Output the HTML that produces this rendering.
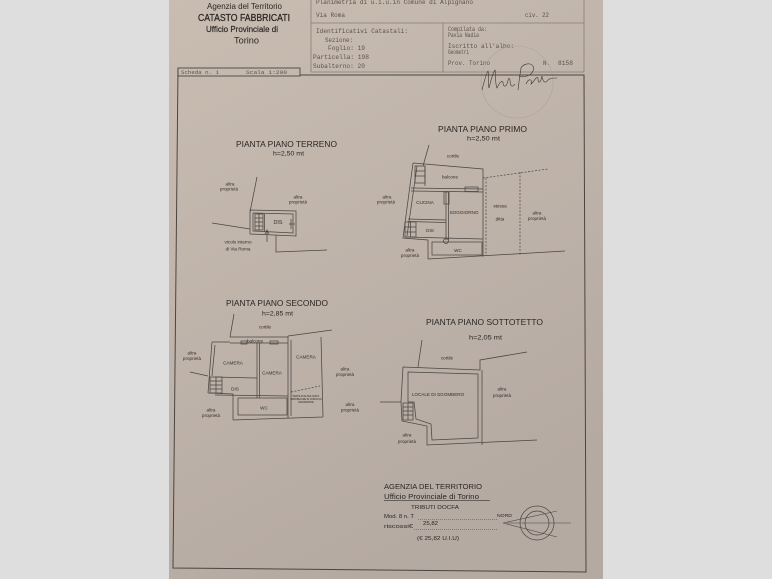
<!DOCTYPE html>
<html><head><meta charset="utf-8"><style>
html,body{margin:0;padding:0;background:#dedede;}
svg{display:block}
text{font-family:"Liberation Sans",sans-serif;fill:#2b2624}
.m{font-family:"Liberation Mono",monospace;fill:#5a524d;font-size:6px}
.s{font-size:4.6px;text-anchor:middle;fill:#342e2b}
.r{font-size:5.4px;text-anchor:middle;fill:#342e2b}
.t{font-size:8.5px;text-anchor:middle}
.h{font-size:6px;text-anchor:middle}
.l{stroke:#4b4541;stroke-width:0.75;fill:none}
.d{stroke:#4b4541;stroke-width:0.7;fill:none;stroke-dasharray:2 1.5}
.b{stroke:#877e77;stroke-width:0.8;fill:none}
</style></head><body>
<svg width="772" height="579" viewBox="0 0 772 579">
<defs><linearGradient id="pg" x1="0" y1="0" x2="0.4" y2="1"><stop offset="0" stop-color="#c9bdb2"/><stop offset="1" stop-color="#b5aaa2"/></linearGradient></defs>
<rect width="772" height="579" fill="#dedede"/>
<rect x="169" y="0" width="434" height="579" fill="url(#pg)"/>

<!-- header left -->
<text x="244.5" y="9" font-size="8.5" text-anchor="middle" textLength="75" lengthAdjust="spacingAndGlyphs">Agenzia del Territorio</text>
<text x="244" y="21" font-size="10" text-anchor="middle" textLength="92" lengthAdjust="spacingAndGlyphs" stroke="#2b2624" stroke-width="0.25">CATASTO FABBRICATI</text>
<text x="242" y="32" font-size="8" text-anchor="middle" textLength="72" lengthAdjust="spacingAndGlyphs" stroke="#2b2624" stroke-width="0.15">Ufficio Provinciale di</text>
<text x="246.5" y="43.5" font-size="9" text-anchor="middle" textLength="25" lengthAdjust="spacingAndGlyphs">Torino</text>

<!-- header right box -->
<path class="b" d="M311,-1 V72 M311,23 H584 M584,-1 V72 M311,72 H584 M443,23 V72"/>
<text class="m" x="316" y="4" textLength="157" lengthAdjust="spacingAndGlyphs">Planimetria di u.i.u.in Comune di Alpignano</text>
<text class="m" x="316" y="17" textLength="29" lengthAdjust="spacingAndGlyphs">Via Roma</text>
<text class="m" x="525" y="17" textLength="24" lengthAdjust="spacingAndGlyphs">civ. 22</text>
<text class="m" x="316" y="33" textLength="92" lengthAdjust="spacingAndGlyphs">Identificativi Catastali:</text>
<text class="m" x="325" y="42" textLength="28" lengthAdjust="spacingAndGlyphs">Sezione:</text>
<text class="m" x="328" y="50" textLength="37" lengthAdjust="spacingAndGlyphs">Foglio: 19</text>
<text class="m" x="313" y="59" textLength="56" lengthAdjust="spacingAndGlyphs">Particella: 198</text>
<text class="m" x="313" y="68" textLength="52" lengthAdjust="spacingAndGlyphs">Subalterno: 20</text>
<text class="m" x="448" y="31" textLength="39" lengthAdjust="spacingAndGlyphs">Compilata da:</text>
<text class="m" x="448" y="37" textLength="31" lengthAdjust="spacingAndGlyphs">Pavia Nadia</text>
<text class="m" x="448" y="48" textLength="66" lengthAdjust="spacingAndGlyphs">Iscritto all'albo:</text>
<text class="m" x="448" y="54" textLength="21" lengthAdjust="spacingAndGlyphs">Geometri</text>
<text class="m" x="448" y="65" textLength="42" lengthAdjust="spacingAndGlyphs">Prov. Torino</text>
<text class="m" x="543" y="65">N.</text>
<text class="m" x="558" y="65" textLength="15" lengthAdjust="spacingAndGlyphs">8158</text>

<!-- stamp circle + signature -->
<circle cx="517" cy="82" r="36" fill="none" stroke="#ada39b" stroke-width="0.6"/>
<path d="M482,90 C484,82 486,74 488,71 C489,76 488,84 489,88 C491,80 493,72 495,70 C496,76 495,84 497,88 C499,84 501,80 503,82 C503,86 505,88 507,84 C508,80 509,76 510,80 C510,86 512,88 515,84" fill="none" stroke="#3a3431" stroke-width="0.6"/>
<path d="M518,90 C519,82 520,74 521,68 C524,62 536,62 533,71 C531,76 523,78 519,76 M526,84 C529,77 533,80 531,84 C534,82 536,76 538,78 C538,82 539,84 541,80 L542,76 C543,82 545,84 548,80 C550,78 553,78 557,78" fill="none" stroke="#3a3431" stroke-width="0.6"/>

<!-- scheda box + frame -->
<rect x="178" y="68" width="122" height="8" fill="none" stroke="#4b4541" stroke-width="0.9"/>
<text class="m" x="181" y="74" textLength="38" lengthAdjust="spacingAndGlyphs" style="font-size:5px">Scheda n. 1</text>
<text class="m" x="246" y="74" textLength="41" lengthAdjust="spacingAndGlyphs" style="font-size:5px">Scala 1:200</text>
<path d="M178,68 L173,568 L586,572 L584,75 L300,75" fill="none" stroke="#4b4541" stroke-width="1"/>

<!-- titles -->
<text class="t" x="286.5" y="147" textLength="101" lengthAdjust="spacingAndGlyphs">PIANTA PIANO TERRENO</text>
<text class="h" x="288.5" y="155.5" textLength="31" lengthAdjust="spacingAndGlyphs">h=2,50 mt</text>
<text class="t" x="482.5" y="132" textLength="89" lengthAdjust="spacingAndGlyphs">PIANTA PIANO PRIMO</text>
<text class="h" x="483.5" y="140.5" textLength="33" lengthAdjust="spacingAndGlyphs">h=2,50 mt</text>
<text class="t" x="277" y="306" textLength="102" lengthAdjust="spacingAndGlyphs">PIANTA PIANO SECONDO</text>
<text class="h" x="277.5" y="315.5" textLength="31" lengthAdjust="spacingAndGlyphs">h=2,85 mt</text>
<text class="t" x="484.5" y="325" textLength="117" lengthAdjust="spacingAndGlyphs">PIANTA PIANO SOTTOTETTO</text>
<text class="h" x="485.5" y="339.5" textLength="33" lengthAdjust="spacingAndGlyphs">h=2,05 mt</text>

<!-- PIANO TERRENO -->
<path class="l" d="M257,177 L250,212 M212,223 L250,229 M250,210 L296,211 L296,236 L250,234 Z M253,213 L293,214 L293,233 L253,231 Z M264.5,214 V232 M276,235 L276,252 L327,250 M267,242 L267,231 M265,234 L267,230 L269,234 M291,219 V229 M289,224 H295"/>
<rect x="255" y="214" width="8" height="16" class="l"/>
<path class="l" d="M255,218 H263 M255,222 H263 M255,226 H263 M259,214 V230" stroke-width="0.5"/>
<text class="s" x="230" y="185.5">altra</text><text class="s" x="229" y="190.5">proprietà</text>
<text class="s" x="298" y="198.5">altra</text><text class="s" x="298" y="203.5">proprietà</text>
<text class="r" x="278" y="224">DIS</text>
<text class="s" x="238" y="243.5">vicolo interno</text><text class="s" x="238" y="250.5">di Via Roma</text>

<!-- PIANO PRIMO -->
<path class="l" d="M429,145 L423,166 M413,163 L483,169 L483,257 M413,163 L403,238 L428,240 L428,259 M417,166 L407,236 M425,166 V186 M411,188 L483,189 M411,191 L483,192 M446,192 V240 M448.5,192 V240 M408,219 L446,220 M408,221.5 L446,222.5 M405,237 L483,239 M432,242 H482 V255 H432 Z M428,259 L565,251"/>
<rect x="465" y="187" width="13" height="4.5" class="l"/>
<rect x="444" y="192" width="5" height="12" class="l"/>
<rect x="415" y="166" width="10" height="17" class="l"/>
<rect x="405" y="222" width="11" height="15" class="l"/>
<path class="l" stroke-width="0.5" d="M415,171 H425 M415,176 H425 M405,227 H416 M405,232 H416 M410.5,222 V237"/>
<circle cx="446" cy="241" r="2.5" class="l"/>
<path class="d" d="M483,178 L548,169 M486,178 L486,256 M520,172 L520,256"/>
<text class="s" x="453" y="157.5">cortile</text>
<text class="s" x="450" y="178.5">balcone</text>
<text class="s" x="425" y="204">CUCINA</text>
<text class="s" x="464" y="214">SOGGIORNO</text>
<text class="s" x="430" y="232">DIS</text>
<text class="s" x="458" y="252">WC</text>
<text class="s" x="500" y="207.5">stessa</text><text class="s" x="500" y="220.5">ditta</text>
<text class="s" x="537" y="214.5">altra</text><text class="s" x="537" y="220">proprietà</text>
<text class="s" x="387" y="198.5">altra</text><text class="s" x="386" y="203.5">proprietà</text>
<text class="s" x="410" y="251.5">altra</text><text class="s" x="410" y="257">proprietà</text>

<!-- PIANO SECONDO -->
<path class="l" d="M234,314 L230,337 M230,337 L288,337 M230,343 L288,343 M212,342 L230,342 M212,342 L208,393 M215,345 L212,376 M190,372 L208,376 M208,393 L233,394 L233,420 M215,377 L257,378 M257,343 V398 M259.5,343 V398 M215,395 L288,396 M238,398 H287 V415 H238 Z M288,336 L332,330 M288,336 V418 M291,340 V416 M321,337 L323,417 M233,420 L323,417"/>
<path class="d" d="M291,392 L320,386"/>
<rect x="210" y="377" width="12" height="16" class="l"/>
<path class="l" stroke-width="0.5" d="M210,381 H222 M210,385 H222 M210,389 H222 M216,377 V393"/>
<rect x="241" y="341" width="6" height="3" class="l"/><rect x="270" y="341" width="8" height="3" class="l"/>
<text x="306" y="397" style="font-size:2.4px;text-anchor:middle">PARTE DI ALTRA UNITA'</text>
<text x="306" y="400" style="font-size:2.4px;text-anchor:middle">IMMOBILIARE IN CORSO DI</text>
<text x="306" y="403" style="font-size:2.4px;text-anchor:middle">DEFINIZIONE</text>
<text class="s" x="265" y="328.5">cortile</text>
<text class="s" x="255" y="342.5">balcone</text>
<text class="s" x="233" y="364.5">CAMERA</text>
<text class="s" x="272" y="374.5">CAMERA</text>
<text class="s" x="306" y="358.5">CAMERA</text>
<text class="s" x="235" y="390.5">DIS</text>
<text class="s" x="264" y="409.5">WC</text>
<text class="s" x="192" y="354.5">altra</text><text class="s" x="192" y="360">proprietà</text>
<text class="s" x="345" y="370.5">altra</text><text class="s" x="345" y="376">proprietà</text>
<text class="s" x="211" y="411.5">altra</text><text class="s" x="211" y="417">proprietà</text>
<text class="s" x="350" y="406">altra</text><text class="s" x="350" y="411.5">proprietà</text>

<!-- PIANO SOTTOTETTO -->
<path class="l" d="M422,340 L418,367 M403,367 L480,370 L480,360 L527,352 M408,372 L478,374 L478,438 L432,440 L431,424 L416,419 L414,402 L408,402 Z M403,367 L401,402 L380,402 M401,402 L402,421 L427,426 L427,445 L537,440 M482,370 V445"/>
<rect x="403" y="403" width="10" height="17" class="l"/>
<path class="l" stroke-width="0.5" d="M403,407 H413 M403,411 H413 M403,415 H413 M408,403 V420"/>
<text class="s" x="447" y="359.5">cortile</text>
<text class="s" x="438" y="396">LOCALE DI SGOMBERO</text>
<text class="s" x="502" y="390.5">altra</text><text class="s" x="502" y="397">proprietà</text>
<text class="s" x="407" y="436.5">altra</text><text class="s" x="407" y="443">proprietà</text>

<!-- bottom stamp -->
<text x="433" y="489" font-size="7.5" text-anchor="middle" textLength="98" lengthAdjust="spacingAndGlyphs">AGENZIA DEL TERRITORIO</text>
<text x="431.5" y="499" font-size="7" text-anchor="middle" textLength="95" lengthAdjust="spacingAndGlyphs">Ufficio Provinciale di Torino</text>
<path d="M384,500.5 H490" stroke="#4b4541" stroke-width="0.7"/>
<text x="435" y="509" font-size="5.5" text-anchor="middle" textLength="48" lengthAdjust="spacingAndGlyphs">TRIBUTI DOCFA</text>
<text x="384" y="518" font-size="5" textLength="30" lengthAdjust="spacingAndGlyphs">Mod. 8 n. T</text>
<text x="497" y="517" font-size="4.2" textLength="15" lengthAdjust="spacingAndGlyphs">NORD</text>
<text x="384" y="528" font-size="5" textLength="29" lengthAdjust="spacingAndGlyphs">riscossi€</text>
<text x="423" y="525" font-size="5" textLength="15" lengthAdjust="spacingAndGlyphs">25,82</text>
<path d="M418,519.5 H497 M414,529.5 H497" stroke="#4b4541" stroke-width="0.5" stroke-dasharray="1 1"/>
<text x="417" y="540" font-size="5.5" textLength="42" lengthAdjust="spacingAndGlyphs">(€ 25,82 U.I.U)</text>
<circle cx="537" cy="523" r="17" fill="none" stroke="#4b4541" stroke-width="0.7"/>
<circle cx="537" cy="523" r="12" fill="none" stroke="#4b4541" stroke-width="0.7"/>
<path d="M503,523 L557,511 M503,523 L557,537 M507,523 H571" stroke="#4b4541" stroke-width="0.6" fill="none"/>
</svg>
</body></html>
